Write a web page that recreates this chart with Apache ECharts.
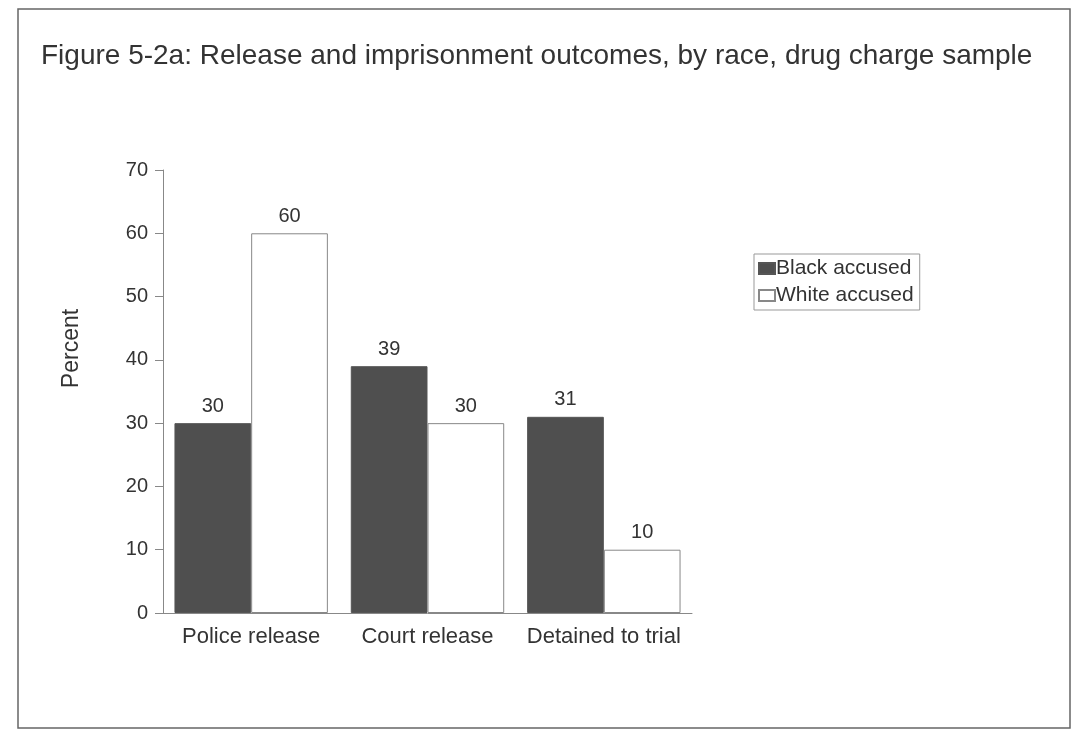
<!DOCTYPE html>
<html><head><meta charset="utf-8">
<script src="https://cdn.jsdelivr.net/npm/echarts@6/dist/echarts.min.js"></script>
<style>html,body{margin:0;padding:0;background:#fff}#c{width:1087px;height:739px}</style>
</head><body><div id="c"></div>
<script>
const categories = ['Police release', 'Court release', 'Detained to trial'];
const blackAccused = [30, 39, 31];
const whiteAccused = [60, 30, 10];
const seriesNames = ['Black accused', 'White accused'];
const titleText = 'Figure 5-2a: Release and imprisonment outcomes, by race, drug charge sample';

const chart = echarts.init(document.getElementById('c'));
const font = 'Liberation Sans, Arial, sans-serif';
const labelStyle = {show: true, position: 'top', distance: 7, color: '#333', fontSize: 20, fontFamily: font};
chart.setOption({
  backgroundColor: '#ffffff',
  animation: false,
  title: {text: titleText, left: 36, top: 37, textStyle: {fontFamily: font, fontWeight: 'normal', fontSize: 28, color: '#333'}},
  graphic: [{type: 'rect', shape: {x: 18, y: 9, width: 1052, height: 719}, style: {fill: 'none', stroke: '#666', lineWidth: 1.5}, z: -1}],
  legend: {
    orient: 'vertical', left: 754, top: 254, itemWidth: 16, itemHeight: 11, itemGap: 6,
    padding: [4, 6, 4, 4], borderColor: '#999', borderWidth: 1,
    textStyle: {fontFamily: font, fontSize: 21, color: '#333', padding: [0, 0, 0, -4]},
    data: [{name: seriesNames[0], icon: 'rect'}, {name: seriesNames[1], icon: 'rect'}]
  },
  grid: {left: 163, right: 395, top: 170, bottom: 126},
  xAxis: {
    type: 'category', data: categories,
    axisLine: {lineStyle: {color: '#888'}}, axisTick: {show: false},
    axisLabel: {interval: 0, hideOverlap: false, fontFamily: font, fontSize: 22, color: '#333', margin: 13}
  },
  yAxis: {
    type: 'value', min: 0, max: 70, interval: 10,
    name: 'Percent', nameLocation: 'middle', nameGap: 80, nameRotate: 90,
    nameTextStyle: {fontFamily: font, fontSize: 23, color: '#333', padding: [0, 0, 0, 86]},
    axisLine: {show: true, lineStyle: {color: '#888'}},
    axisTick: {show: true, length: 8, inside: false, lineStyle: {color: '#888'}},
    axisLabel: {fontFamily: font, fontSize: 20, color: '#333', margin: 15},
    splitLine: {show: false}
  },
  series: [
    {name: seriesNames[0], type: 'bar', data: blackAccused, barGap: '0%', barCategoryGap: '13%',
     itemStyle: {color: '#4f4f4f', borderColor: '#555', borderWidth: 1}, label: labelStyle},
    {name: seriesNames[1], type: 'bar', data: whiteAccused, barGap: '0%', barCategoryGap: '13%',
     itemStyle: {color: '#ffffff', borderColor: '#888', borderWidth: 1}, label: labelStyle}
  ]
});
</script></body></html>
